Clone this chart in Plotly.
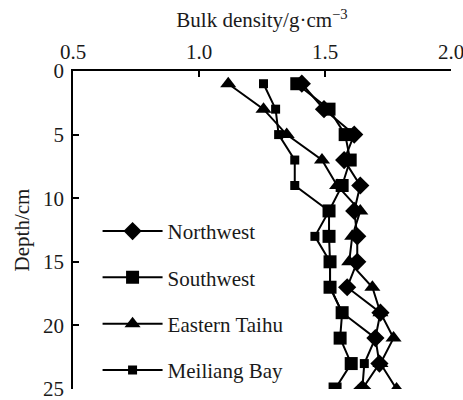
import plotly.graph_objects as go

depth = [1, 3, 5, 7, 9, 11, 13, 15, 17, 19, 21, 23, 25]
northwest = [1.408, 1.496, 1.616, 1.576, 1.64, 1.616, 1.628, 1.628, 1.588, 1.72, 1.70, 1.716, 1.648]
southwest = [1.388, 1.516, 1.58, 1.60, 1.568, 1.516, 1.516, 1.52, 1.52, 1.568, 1.56, 1.604, 1.54]
eastern_taihu = [1.116, 1.256, 1.348, 1.488, 1.548, 1.64, 1.608, 1.596, 1.688, 1.72, 1.772, 1.72, 1.784]
meiliang_bay = [1.256, 1.304, 1.316, 1.38, 1.38, 1.516, 1.46, 1.52, 1.52, 1.568, 1.70, 1.656, 1.648]

x_ticks = [0.5, 1.0, 1.5, 2.0]
x_ticklabels = ["0.5", "1.0", "1.5", "2.0"]
y_ticks = [0, 5, 10, 15, 20, 25]

series = [
    ("Northwest", northwest, "diamond", 14),
    ("Southwest", southwest, "square", 13),
    ("Eastern Taihu", eastern_taihu, "triangle-up", 14),
    ("Meiliang Bay", meiliang_bay, "square", 9),
]

FONT = "Liberation Serif"
FS = 21
fig = go.Figure()
for i, (name, vals, sym, size) in enumerate(series):
    fig.add_trace(go.Scatter(
        x=vals, y=depth, name=name, mode="lines+markers",
        legendgroup=f"g{i}",
        line=dict(color="black", width=2),
        marker=dict(symbol=sym, size=size, color="black", line=dict(width=0)),
    ))

fig.update_layout(
    width=463, height=400,
    margin=dict(l=73, r=12, t=71, b=11, autoexpand=False),
    paper_bgcolor="white", plot_bgcolor="white",
    font=dict(family=FONT, size=FS, color="#1a1a1a"),
    showlegend=True,
    legend=dict(
        x=0.065, y=0.56, xanchor="left", yanchor="top",
        bgcolor="rgba(0,0,0,0)", borderwidth=0,
        font=dict(family=FONT, size=FS, color="#1a1a1a"),
        tracegroupgap=16, itemwidth=60,
    ),
    xaxis=dict(
        side="top", range=[0.5, 2.0], tickvals=x_ticks, ticktext=x_ticklabels,
        ticks="inside", ticklen=6, tickwidth=1.5, tickcolor="black",
        showline=True, linecolor="black", linewidth=1.5, mirror=False,
        showgrid=False, zeroline=False, ticklabelstandoff=2,
        ticklabeloverflow="allow",
        title=dict(text="Bulk density/g·cm<sup>−3</sup>", font=dict(family=FONT, size=FS), standoff=6),
        tickfont=dict(family=FONT, size=FS),
    ),
    yaxis=dict(
        range=[25, 0], tickvals=y_ticks,
        ticks="inside", ticklen=6, tickwidth=1.5, tickcolor="black",
        showline=True, linecolor="black", linewidth=1.5, mirror=False,
        showgrid=False, zeroline=False, ticklabelstandoff=3,
        ticklabeloverflow="allow",
        title=dict(text="Depth/cm", font=dict(family=FONT, size=FS), standoff=8),
        tickfont=dict(family=FONT, size=FS),
    ),
)

fig.write_html("out.html")
